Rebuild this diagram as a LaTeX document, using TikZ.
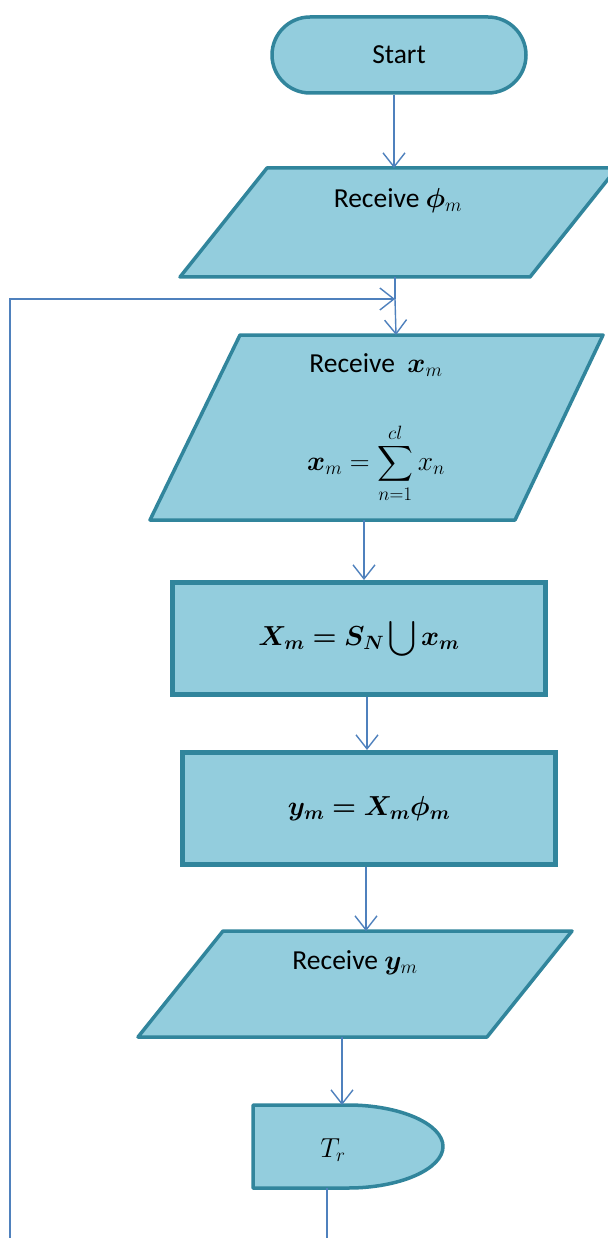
\RequirePackage{fix-cm}
\documentclass[tikz,border=0pt]{standalone}
\usepackage{amsmath}
\usepackage{bm}
\usepackage{fontspec}
\setmainfont{Carlito}
\usetikzlibrary{arrows.meta,shapes.misc}
\definecolor{shapefill}{HTML}{93CDDD}
\definecolor{shapeline}{HTML}{31859C}
\definecolor{arrowblue}{HTML}{4F81BD}
\begin{document}
\begin{tikzpicture}[x=1pt,y=-1pt,
  shapestyle/.style={fill=shapefill,draw=shapeline,line width=3.5pt,line join=round},
  boxstyle/.style={rectangle,fill=shapefill,draw=shapeline,line width=5pt,minimum width=373pt,minimum height=112pt,inner sep=0pt},
  lbl/.style={font=\fontsize{27.5}{33}\selectfont,inner sep=0pt,text=black},
  arr/.style={draw=arrowblue,line width=1.4pt,-{Straight Barb[length=14pt,width=22pt,line width=1.4pt]}},
  conn/.style={draw=arrowblue,line width=1.4pt}]
\useasboundingbox (0,0) rectangle (607,1238);
\fill[white] (0,0) rectangle (607,1238);

% Start terminal
\node[rounded rectangle,shapestyle,minimum width=254pt,minimum height=76pt,lbl] (start) at (399,55) {Start};

% Parallelogram 1
\path[shapestyle] (267,168) -- (617,168) -- (530,277) -- (180,277) -- cycle;
\node[lbl] (p1) at (398,201) {Receive $\bm{\phi}_m$};
\coordinate (p1top) at (394,168);
\coordinate (p1bot) at (395,277);

% Parallelogram 2
\path[shapestyle] (240,335) -- (603,335) -- (515,520) -- (150,520) -- cycle;
\node[lbl] (p2a) at (376,365) {Receive\ \ $\bm{x}_m$};
\node[lbl] (p2b) at (376,463) {$\displaystyle \bm{x}_m=\sum_{n=1}^{cl} x_n$};
\coordinate (p2top) at (396,335);
\coordinate (p2bot) at (364,520);
\coordinate (merge) at (395,299);
\coordinate (loopstart) at (10,1240);

% Box 1
\node[boxstyle,lbl] (b1) at (359,638.5) {$\displaystyle\bm{X_m=S_N}\bigcup\bm{x_m}$};
\coordinate (b1out) at (367,697);
% Box 2
\node[boxstyle,lbl] (b2) at (369,808.5) {$\bm{y_m=X_m\phi_m}$};
\coordinate (b2in) at (367,750);

% Parallelogram 3
\path[shapestyle] (223,931) -- (572,931) -- (487,1037) -- (138,1037) -- cycle;
\node[lbl] (p3) at (355,963) {Receive $\bm{y}_m$};
\coordinate (p3top) at (366,931);
\coordinate (p3bot) at (342,1037);

% Delay shape
\path[shapestyle] (253,1105) -- (348,1105)
  .. controls (400,1105) and (443,1124) .. (443,1146.5)
  .. controls (443,1169) and (400,1188) .. (348,1188)
  -- (253,1188) -- cycle;
\node[lbl] (tr) at (333,1150) {$T_r$};
\coordinate (trtop) at (342,1105);
\coordinate (trbot) at (327,1188);
\coordinate (trend) at (327,1240);

% Connectors
\draw[arr] (p1top |- start.south) -- (p1top);
\draw[conn] (p1bot) -- (merge);
\draw[arr] (merge) -- (p2top);
\draw[arr] (loopstart) |- (merge);
\draw[arr] (p2bot) -- (p2bot |- b1.north);
\draw[arr] (b1out) -- (b2in);
\draw[arr] (b2.south -| p3top) -- (p3top);
\draw[arr] (p3bot) -- (trtop);
\draw[conn] (trbot) -- (trend);
\end{tikzpicture}
\end{document}
